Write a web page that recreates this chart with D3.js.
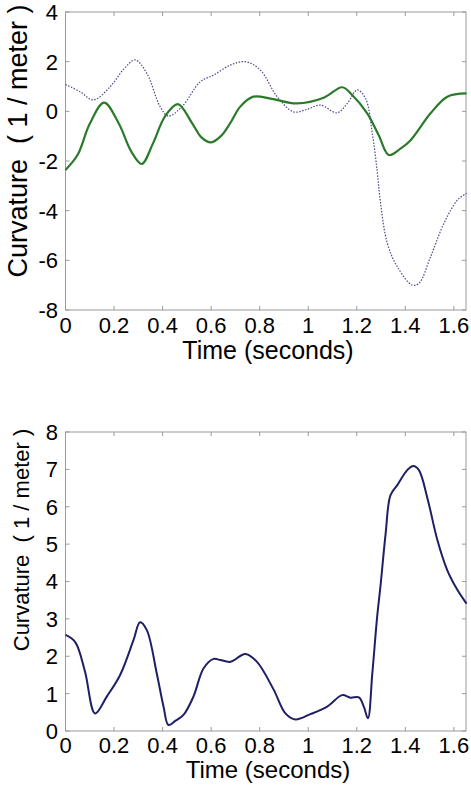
<!DOCTYPE html>
<html>
<head>
<meta charset="utf-8">
<script src="https://cdn.jsdelivr.net/npm/d3@7"></script>
<style>
  body { margin: 0; background: #fff; }
  text { font-family: "Liberation Sans", Arial, sans-serif; fill: #000; }
</style>
</head>
<body>
<div id="chart"></div>
<script>
// top panel: two curvature traces
const timeGreen = [0, 0.05, 0.1, 0.159, 0.22, 0.27, 0.314, 0.36, 0.41, 0.463, 0.52, 0.56, 0.6, 0.64, 0.679, 0.72, 0.774, 0.85, 0.954, 1.064, 1.14, 1.181, 1.243, 1.29, 1.332, 1.38, 1.422, 1.504, 1.573, 1.652];
const curvGreen = [-2.36, -1.75, -0.5, 0.35, -0.5, -1.6, -2.12, -1.3, -0.2, 0.29, -0.45, -1.05, -1.25, -1.0, -0.47, 0.19, 0.59, 0.5, 0.32, 0.55, 0.97, 0.66, -0.08, -0.95, -1.76, -1.5, -1.16, -0.08, 0.59, 0.72];

const timeDotted = [0, 0.06, 0.115, 0.184, 0.24, 0.287, 0.335, 0.39, 0.424, 0.48, 0.555, 0.61, 0.679, 0.741, 0.803, 0.872, 0.94, 0.995, 1.05, 1.119, 1.161, 1.202, 1.236, 1.264, 1.284, 1.298, 1.326, 1.367, 1.429, 1.456, 1.504, 1.559, 1.615, 1.652];
const curvDotted = [1.08, 0.79, 0.46, 0.99, 1.7, 2.07, 1.53, 0.19, -0.19, 0.19, 1.19, 1.46, 1.86, 2.0, 1.66, 0.59, -0.02, 0.08, 0.25, -0.06, 0.32, 0.86, 0.52, -0.89, -2.4, -3.7, -5.32, -6.26, -7.0, -6.93, -5.86, -4.51, -3.57, -3.3];

// bottom panel: curvature magnitude
const timeMag = [0, 0.04, 0.08, 0.122, 0.17, 0.225, 0.28, 0.307, 0.335, 0.376, 0.404, 0.424, 0.452, 0.486, 0.527, 0.569, 0.61, 0.638, 0.679, 0.741, 0.789, 0.858, 0.906, 0.947, 1.009, 1.078, 1.14, 1.174, 1.209, 1.229, 1.246, 1.264, 1.284, 1.298, 1.319, 1.339, 1.367, 1.408, 1.433, 1.456, 1.491, 1.532, 1.573, 1.615, 1.652];
const curvMag = [2.57, 2.38, 1.6, 0.47, 0.92, 1.5, 2.43, 2.91, 2.7, 1.54, 0.65, 0.16, 0.27, 0.43, 0.92, 1.68, 1.93, 1.9, 1.85, 2.06, 1.85, 1.1, 0.47, 0.31, 0.45, 0.65, 0.96, 0.89, 0.9, 0.65, 0.34, 1.54, 3.06, 3.9, 5.29, 6.31, 6.58, 6.98, 7.09, 6.98, 6.23, 5.11, 4.3, 3.77, 3.41];

const xTicks = [0, 0.2, 0.4, 0.6, 0.8, 1, 1.2, 1.4, 1.6];
const yTicksTop = [-8, -6, -4, -2, 0, 2, 4];
const yTicksBottom = [0, 1, 2, 3, 4, 5, 6, 7, 8];

const width = 471, height = 787;
const svg = d3.select('#chart').append('svg')
    .attr('width', width)
    .attr('height', height);

const left = 65.5, right = 466;

function panel(opts) {
    const x = d3.scaleLinear().domain([0, 1.65]).range([left, right]);
    const y = d3.scaleLinear().domain(opts.yDomain).range([opts.bottom, opts.top]);
    const g = svg.append('g');

    // box with inward ticks on every side
    g.append('rect')
        .attr('x', left).attr('y', opts.top)
        .attr('width', right - left).attr('height', opts.bottom - opts.top)
        .attr('fill', 'none').attr('stroke', '#9a9a9a').attr('stroke-width', 1);

    const tk = 4;
    xTicks.forEach(function(t) {
        g.append('line').attr('x1', x(t)).attr('x2', x(t))
            .attr('y1', opts.bottom).attr('y2', opts.bottom - tk).attr('stroke', '#9a9a9a');
        g.append('line').attr('x1', x(t)).attr('x2', x(t))
            .attr('y1', opts.top).attr('y2', opts.top + tk).attr('stroke', '#9a9a9a');
        g.append('text')
            .attr('x', x(t)).attr('y', opts.bottom + opts.xLabOff)
            .attr('text-anchor', 'middle')
            .style('font-size', '22px')
            .text(t);
    });
    opts.yTicks.forEach(function(v) {
        g.append('line').attr('x1', left).attr('x2', left + tk)
            .attr('y1', y(v)).attr('y2', y(v)).attr('stroke', '#9a9a9a');
        g.append('line').attr('x1', right).attr('x2', right - tk)
            .attr('y1', y(v)).attr('y2', y(v)).attr('stroke', '#9a9a9a');
        g.append('text')
            .attr('x', 58).attr('y', y(v))
            .attr('dy', '0.36em')
            .attr('text-anchor', 'end')
            .style('font-size', '22px')
            .text(v);
    });

    g.append('text')
        .attr('x', 268).attr('y', opts.titleY)
        .attr('text-anchor', 'middle')
        .style('font-size', opts.titleSize + 'px')
        .text('Time (seconds)');

    g.append('text')
        .attr('transform', 'translate(' + opts.yLabX + ',' + opts.yLabY + ') rotate(-90)')
        .attr('text-anchor', 'middle')
        .style('font-size', opts.yLabSize + 'px')
        .style('white-space', 'pre')
        .text('Curvature  ( 1 / meter )');

    const line = d3.line()
        .x(function(d) { return x(d[0]); })
        .y(function(d) { return y(d[1]); })
        .curve(d3.curveCatmullRom.alpha(0.5));

    opts.series.forEach(function(s) {
        g.append('path')
            .datum(d3.zip(s.t, s.v))
            .attr('d', line)
            .attr('fill', 'none')
            .attr('stroke', s.color)
            .attr('stroke-width', s.w)
            .attr('stroke-dasharray', s.dash || null);
    });
}

panel({
    top: 12, bottom: 310, yDomain: [-8, 4], yTicks: yTicksTop,
    xLabOff: 23, titleY: 359, titleSize: 25, yLabX: 27, yLabY: 141, yLabSize: 27,
    series: [
        { t: timeDotted, v: curvDotted, color: '#4a4a8a', w: 1.2, dash: '1.5,1.5' },
        { t: timeGreen, v: curvGreen, color: '#2a7a2a', w: 2.2 }
    ]
});

panel({
    top: 432, bottom: 731, yDomain: [0, 8], yTicks: yTicksBottom,
    xLabOff: 22, titleY: 778, titleSize: 24, yLabX: 29, yLabY: 540, yLabSize: 22,
    series: [
        { t: timeMag, v: curvMag, color: '#1f1f66', w: 2 }
    ]
});
</script>
</body>
</html>
